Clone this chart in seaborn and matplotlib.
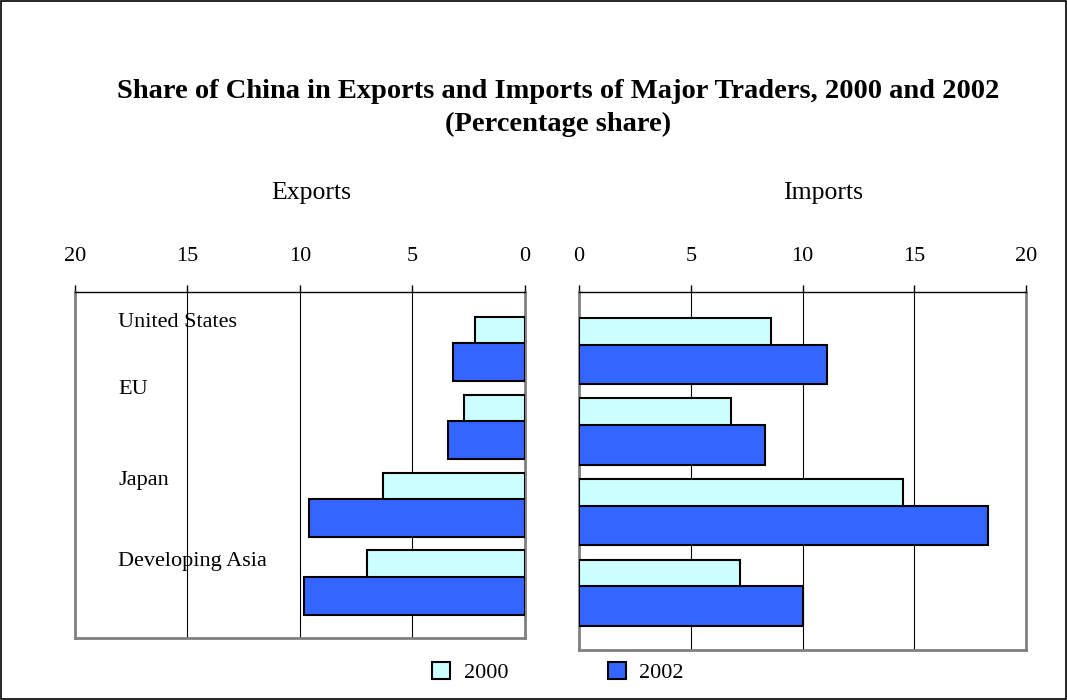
import numpy as np
import pandas as pd
import matplotlib
matplotlib.use("Agg")
import matplotlib.pyplot as plt
import matplotlib.transforms as mtransforms
from matplotlib.patches import Patch, Rectangle
import seaborn as sns

# ---- data ----
regions = ["United States", "EU", "Japan", "Developing Asia"]
years = ["2000", "2002"]
exports_2000 = [2.2, 2.7, 6.3, 7.0]
exports_2002 = [3.2, 3.4, 9.6, 9.8]
imports_2000 = [8.6, 6.8, 14.5, 7.2]
imports_2002 = [11.1, 8.3, 18.3, 10.0]
tick_values = [0, 5, 10, 15, 20]

sns.set_theme(style="white")
plt.rcParams['font.family'] = ['Liberation Serif', 'DejaVu Serif']
plt.rcParams['text.color'] = 'black'
plt.rcParams['axes.labelcolor'] = 'black'
plt.rcParams['xtick.color'] = 'black'

colors = {"2000": "#CCFFFF", "2002": "#3366FF"}
offsets = {"2000": -0.167, "2002": 0.167}
bar_h = 0.49

fig = plt.figure(figsize=(10.67, 7.0), dpi=100)
ax_e = fig.add_axes([0.0703, 0.0886, 0.4217, 0.494])
ax_i = fig.add_axes([0.5427, 0.0714, 0.419, 0.511])


def draw(ax, v2000, v2002, xlim):
    for yr, vals in (("2000", v2000), ("2002", v2002)):
        df = pd.DataFrame({"value": vals,
                           "pos": np.arange(len(regions)) + offsets[yr]})
        sns.barplot(data=df, x="value", y="pos", orient="y", native_scale=True,
                    width=bar_h, color=colors[yr], edgecolor="black",
                    linewidth=1.5, saturation=1, errorbar=None, ax=ax, zorder=3)
    ax.set_ylim(3.71, -0.725)
    ax.set_xlim(*xlim)
    ax.set_yticks([])
    ax.set_ylabel("")
    ax.set_xlabel("")
    ax.xaxis.tick_top()
    ax.set_xticks(tick_values)
    ax.set_xticklabels([str(t) for t in tick_values])
    ax.tick_params(axis="x", top=True, bottom=False, direction="out", length=5,
                   width=1, color="black", pad=14, labelsize=16, labelcolor="black")
    ax.grid(axis="x", color="black", lw=0.8)
    ax.grid(axis="y", visible=False)
    ax.set_axisbelow(True)
    for s in ("left", "right", "bottom"):
        ax.spines[s].set_visible(True)
        ax.spines[s].set_color("#808080")
        ax.spines[s].set_linewidth(2)
    ax.spines["top"].set_visible(True)
    ax.spines["top"].set_color("black")
    ax.spines["top"].set_linewidth(1)
    ax.set_facecolor("white")


draw(ax_e, exports_2000, exports_2002, (20, 0))
draw(ax_i, imports_2000, imports_2002, (0, 20))

# category labels inside the exports panel
label_dy = [-0.33, -0.48, -0.31, -0.27]
trans = mtransforms.blended_transform_factory(ax_e.transAxes, ax_e.transData)
for i, name in enumerate(regions):
    ax_e.text(0.096, i + label_dy[i], name, transform=trans, ha="left",
              va="center", fontsize=16, color="black", zorder=5)

# titles
fig.text(0.523, 0.870, "Share of China in Exports and Imports of Major Traders, 2000 and 2002",
         ha="center", va="center", fontsize=20.5, fontweight="bold", color="black")
fig.text(0.523, 0.822, "(Percentage share)", ha="center", va="center",
         fontsize=20.5, fontweight="bold", color="black")
fig.text(0.292, 0.724, "Exports", ha="center", va="center", fontsize=18.5, color="black")
fig.text(0.771, 0.724, "Imports", ha="center", va="center", fontsize=18.5, color="black")

# legend
handles = [Patch(facecolor=colors[y], edgecolor="black", linewidth=1.5) for y in years]
fig.legend(handles, years, loc="center", bbox_to_anchor=(0.523, 0.039), ncol=2,
           frameon=False, fontsize=16, handlelength=0.8, handleheight=0.8,
           handletextpad=0.6, columnspacing=4.5, labelcolor="black")

# outer border
fig.patches.append(Rectangle((0.001, 0.001), 0.998, 0.998, transform=fig.transFigure,
                             fill=False, edgecolor="black", lw=1.2))

fig.savefig("out.png", dpi=100)
